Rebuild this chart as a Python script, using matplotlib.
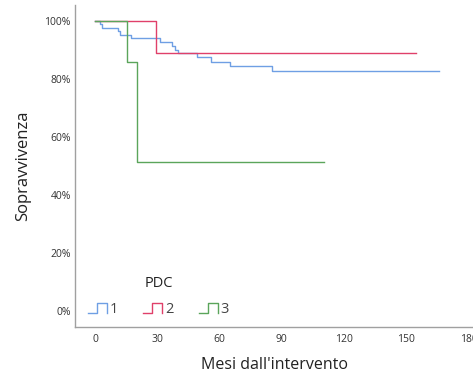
import matplotlib
matplotlib.use("Agg")
import matplotlib.pyplot as plt
from matplotlib.legend_handler import HandlerLine2D
from matplotlib.lines import Line2D
import numpy as np

plt.rcParams['font.family'] = ['Open Sans', 'DejaVu Sans']

# Kaplan-Meier step data (months, survival %)
g1_t = [0, 2.4, 3.4, 11.0, 11.8, 17.5, 31.3, 36.9, 38.5, 40.1, 49.0, 56.1, 65.0, 85.5, 165.6]
g1_s = [100, 99.0, 97.6, 96.5, 95.3, 94.0, 92.7, 91.4, 90.0, 89.1, 87.4, 85.9, 84.5, 82.8, 82.8]
g2_t = [0, 29.5, 154.9]
g2_s = [100, 89.1, 89.1]
g3_t = [0, 15.3, 20.2, 110.5]
g3_s = [100, 85.7, 51.4, 51.4]
groups = ['1', '2', '3']
colors = ['#6f9fe4', '#e0406a', '#5ba55b']

xticks = [0, 30, 60, 90, 120, 150, 180]
yticks = [0, 20, 40, 60, 80, 100]


class StepHandler(HandlerLine2D):
    def create_artists(self, legend, orig_handle, xdescent, ydescent,
                       width, height, fontsize, trans):
        x0 = -xdescent
        w = width
        y0 = -ydescent
        h = height
        xs = [x0, x0 + w * 0.47, x0 + w * 0.47, x0 + w, x0 + w]
        ys = [y0, y0, y0 + h, y0 + h, y0]
        line = Line2D(xs, ys, color=orig_handle.get_color(), lw=1.0)
        line.set_transform(trans)
        return [line]


fig = plt.figure(figsize=(4.73, 3.78), dpi=100)
ax = fig.add_axes([0.1586, 0.1349, 0.845, 0.852])

handles = []
for t, s, c, g in zip([g1_t, g2_t, g3_t], [g1_s, g2_s, g3_s], colors, groups):
    h, = ax.step(t, s, where='post', color=c, lw=1.0, label=g)
    handles.append(h)

ax.set_xlim(-9.7, 183)
ax.set_ylim(-5.5, 105.5)
ax.set_xticks(xticks)
ax.set_xticklabels([str(v) for v in xticks])
ax.set_yticks(yticks)
ax.set_yticklabels([f'{v}%' for v in yticks])
ax.tick_params(length=0, labelsize=7.5, colors='#333333')
ax.tick_params(axis='x', pad=5)
ax.tick_params(axis='y', pad=3)
for sp in ['top', 'right']:
    ax.spines[sp].set_visible(False)
for sp in ['left', 'bottom']:
    ax.spines[sp].set_color('#a0a0a0')
    ax.spines[sp].set_linewidth(1.0)

ax.set_xlabel("Mesi dall'intervento", fontsize=11.5, color='#222222', labelpad=9)
ax.set_ylabel('Sopravvivenza', fontsize=12, color='#222222', labelpad=9.5)

leg = ax.legend(handles=handles, labels=groups, title='PDC', ncol=3,
                frameon=False, loc='lower left', bbox_to_anchor=(0.0145, 0.0086),
                borderpad=0, handler_map={Line2D: StepHandler()}, fontsize=10.5,
                title_fontsize=10.5, handlelength=1.3, handleheight=0.65,
                handletextpad=0.2, columnspacing=1.72, labelspacing=0.75,
                labelcolor='#444444')
leg.get_title().set_color('#222222')

fig.savefig('out.png', dpi=100)
